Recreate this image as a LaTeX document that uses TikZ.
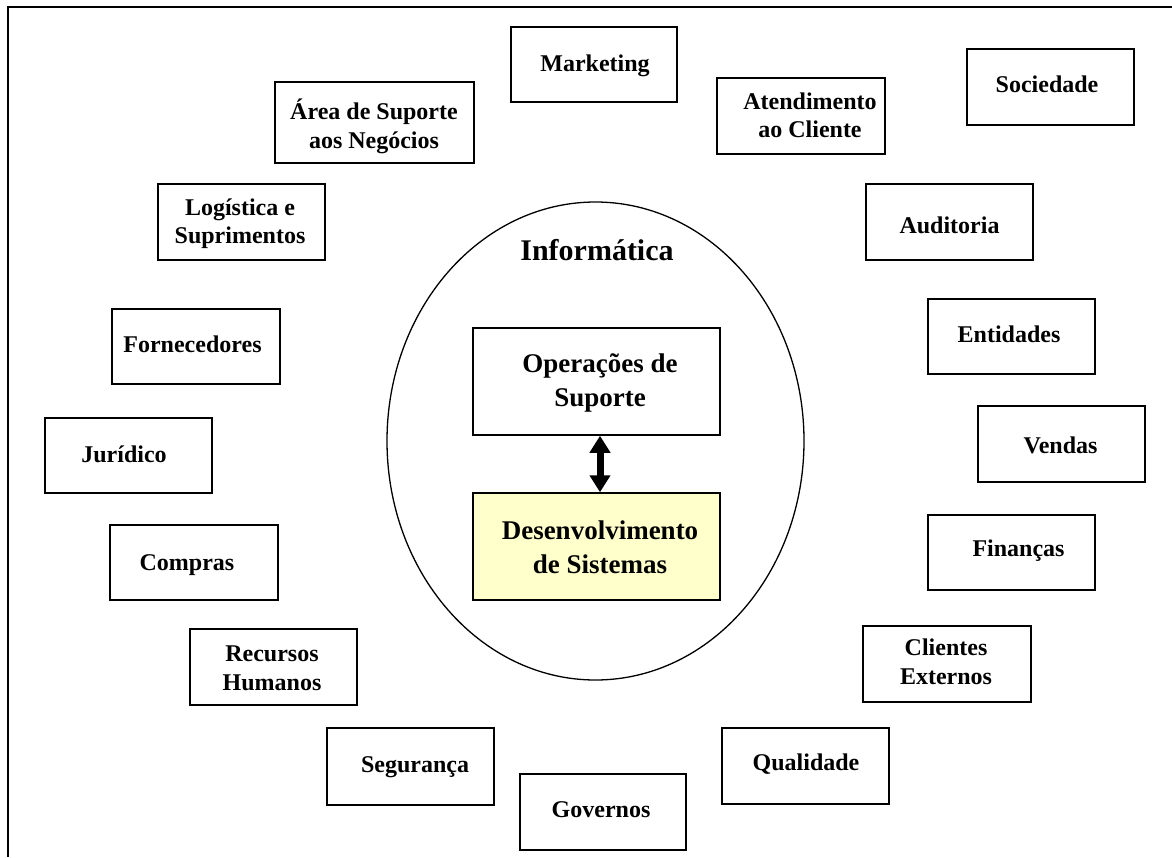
\documentclass[tikz,border=0pt]{standalone}
\usepackage{fontspec}
\setmainfont{Liberation Serif}
\usetikzlibrary{shapes.geometric,arrows.meta}
\definecolor{devfill}{HTML}{FFFFCC}
\tikzset{
  obox/.style={draw=black, line width=1.5pt, rectangle, inner sep=0pt, fill=white},
  otext/.style={font=\fontsize{24}{28.5}\selectfont\bfseries, align=center, inner sep=0pt, yshift=-2.5pt},
  ctext/.style={font=\fontsize{27}{34}\selectfont\bfseries, align=center, inner sep=0pt, yshift=-2.5pt},
  frameline/.style={draw=black, line width=2pt},
}
\newcommand\orgbox[9][otext]{%
  \node[obox, minimum width={#5-#3}, minimum height={#6-#4}] (#2) at ({(#3+#5)/2},{(#4+#6)/2}) {};
  \node[#1] (#2-t) at (#7,#8) {#9};
}
\begin{document}
\begin{tikzpicture}[x=1pt,y=-1pt]
\useasboundingbox (0,0) rectangle (1172,857);
% outer frame (only top and left edges are visible)
\coordinate (ftr) at (1172,7);
\coordinate (ftl) at (8,7);
\coordinate (fbl) at (8,857);
\draw[frameline] (ftr) -- (ftl) -- (fbl);

% central ellipse
\node[draw=black, line width=1.3pt, ellipse, minimum width=417pt, minimum height=478pt, inner sep=0pt] (inf) at (595.5,441) {};
\node[font=\fontsize{30}{34}\selectfont\bfseries, inner sep=0pt, yshift=-2.5pt] (inf-t) at (597,248) {Inform\'atica};

% inner boxes
\orgbox[ctext]{ops}{473}{328}{720}{435}{600}{380}{Operações de\\Suporte}
\node[obox, fill=devfill, minimum width=247pt, minimum height=107pt] (dev) at (596.5,546.5) {};
\node[ctext] (dev-t) at (600,545) {Desenvolvimento\\de Sistemas};
\draw[line width=7pt, {Triangle[width=20pt,length=17pt]}-{Triangle[width=20pt,length=17pt]}]
  ([xshift=3.5pt]ops.south) -- ([xshift=3.5pt]dev.north);

% surrounding boxes
\orgbox{mkt}{511}{27}{677}{102}{595}{63}{Marketing}
\orgbox{area}{275}{82}{474}{163}{374}{124}{Área de Suporte\\aos Negócios}
\orgbox{atend}{717}{78}{885}{154}{810}{113}{Atendimento\\ao Cliente}
\orgbox{soc}{967}{49}{1134}{125}{1047}{82}{Sociedade}
\orgbox{log}{158}{184}{325}{260}{240}{221}{Logística e\\Suprimentos}
\orgbox{aud}{866}{184}{1033}{260}{949.5}{223}{Auditoria}
\orgbox{forn}{112}{309}{280}{384}{192.5}{342}{Fornecedores}
\orgbox{ent}{928}{299}{1095}{374}{1009}{332}{Entidades}
\orgbox{jur}{45}{418}{212}{493}{124}{452}{Jurídico}
\orgbox{vend}{978}{406}{1145}{482}{1060.5}{443}{Vendas}
\orgbox{comp}{110}{525}{278}{600}{187}{563}{Compras}
\orgbox{fin}{928}{515}{1095}{590}{1018.5}{548}{Finanças}
\orgbox{rh}{190}{629}{357}{705}{272}{666}{Recursos\\Humanos}
\orgbox{cli}{863}{626}{1031}{702}{946}{659.5}{Clientes\\Externos}
\orgbox{seg}{327}{728}{494}{805}{415}{765}{Segurança}
\orgbox{qual}{722}{728}{889}{804}{806}{762}{Qualidade}
\orgbox{gov}{520}{774}{686}{850}{601}{807}{Governos}
\end{tikzpicture}
\end{document}
